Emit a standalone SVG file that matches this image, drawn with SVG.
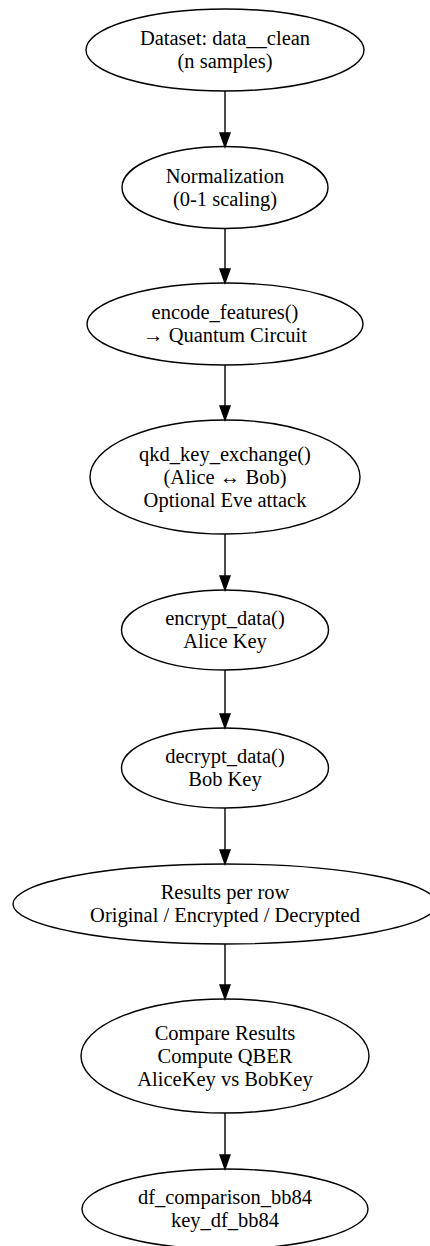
<svg xmlns="http://www.w3.org/2000/svg" width="430" height="1246" viewBox="0 0 430 1246">
  <style>
    .node ellipse { fill: none; stroke: #000; stroke-width: 1.4; }
    .node text { font-family: "Liberation Serif", "Times New Roman", serif; font-size: 20.5px; fill: #000; text-anchor: middle; }
    .edge line { stroke: #000; stroke-width: 1.4; }
    .edge polygon { fill: #000; stroke: #000; stroke-width: 1.4; }
  </style>
  <rect width="430" height="1246" fill="#fff"/>

  <!-- pipeline stages -->
  <g id="dataset" class="node">
    <ellipse cx="225" cy="50" rx="139" ry="41"/>
    <text x="225" y="45">Dataset: data__clean</text>
    <text x="225" y="68">(n samples)</text>
  </g>
  <g id="normalization" class="node">
    <ellipse cx="225" cy="187.5" rx="103" ry="41"/>
    <text x="225" y="183">Normalization</text>
    <text x="225" y="206">(0-1 scaling)</text>
  </g>
  <g id="encode" class="node">
    <ellipse cx="225" cy="324" rx="138" ry="41"/>
    <text x="225" y="319">encode_features()</text>
    <text x="225" y="342">→ Quantum Circuit</text>
  </g>
  <g id="qkd" class="node">
    <ellipse cx="225" cy="477" rx="135" ry="57"/>
    <text x="225" y="461">qkd_key_exchange()</text>
    <text x="225" y="484">(Alice ↔ Bob)</text>
    <text x="225" y="507">Optional Eve attack</text>
  </g>
  <g id="encrypt" class="node">
    <ellipse cx="225" cy="630" rx="103.5" ry="40"/>
    <text x="225" y="625">encrypt_data()</text>
    <text x="225" y="648">Alice Key</text>
  </g>
  <g id="decrypt" class="node">
    <ellipse cx="225" cy="768" rx="103.5" ry="40"/>
    <text x="225" y="763">decrypt_data()</text>
    <text x="225" y="786">Bob Key</text>
  </g>
  <g id="results" class="node">
    <ellipse cx="225" cy="904" rx="212" ry="40"/>
    <text x="225" y="899">Results per row</text>
    <text x="225" y="922">Original / Encrypted / Decrypted</text>
  </g>
  <g id="compare" class="node">
    <ellipse cx="225" cy="1056" rx="144" ry="57"/>
    <text x="225" y="1040">Compare Results</text>
    <text x="225" y="1063">Compute QBER</text>
    <text x="225" y="1086">AliceKey vs BobKey</text>
  </g>
  <g id="output" class="node">
    <ellipse cx="225" cy="1209" rx="143" ry="40"/>
    <text x="225" y="1204">df_comparison_bb84</text>
    <text x="225" y="1227">key_df_bb84</text>
  </g>

  <!-- connectors -->
  <g id="edges" class="edge">
    <line x1="225" y1="91" x2="225" y2="134"/>
    <polygon points="220,133 230,133 225,147"/>
    <line x1="225" y1="228.5" x2="225" y2="270"/>
    <polygon points="220,269 230,269 225,283"/>
    <line x1="225" y1="365" x2="225" y2="407"/>
    <polygon points="220,406 230,406 225,420"/>
    <line x1="225" y1="534" x2="225" y2="577"/>
    <polygon points="220,576 230,576 225,590"/>
    <line x1="225" y1="670" x2="225" y2="715"/>
    <polygon points="220,714 230,714 225,728"/>
    <line x1="225" y1="808" x2="225" y2="851"/>
    <polygon points="220,850 230,850 225,864"/>
    <line x1="225" y1="944" x2="225" y2="986"/>
    <polygon points="220,985 230,985 225,999"/>
    <line x1="225" y1="1113" x2="225" y2="1156"/>
    <polygon points="220,1155 230,1155 225,1169"/>
  </g>
</svg>
